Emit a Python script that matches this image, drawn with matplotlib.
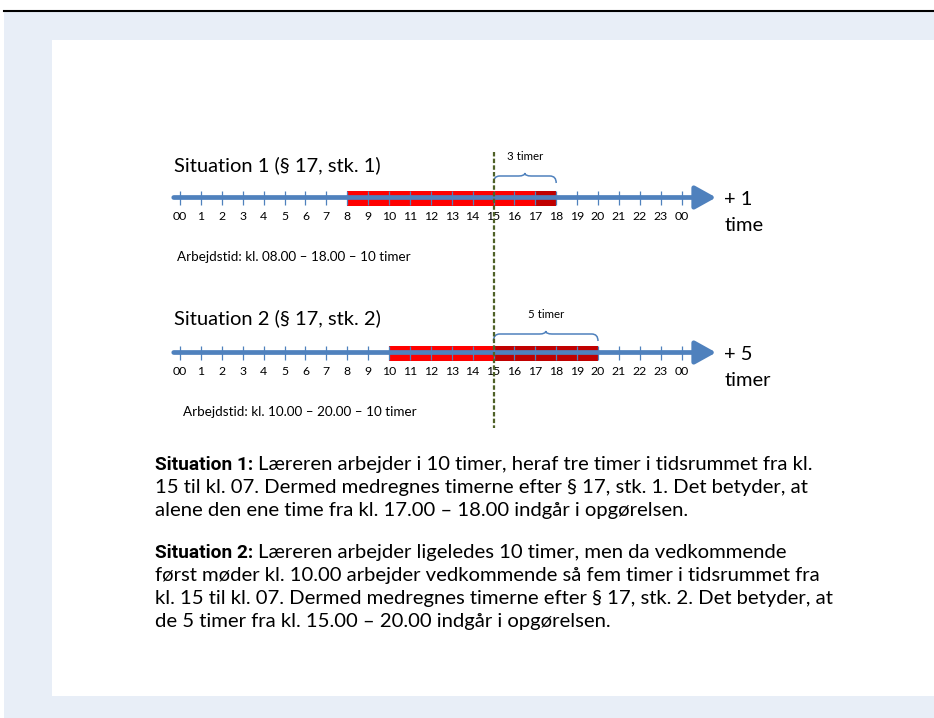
import matplotlib.pyplot as plt
from matplotlib.patches import Rectangle
from matplotlib.path import Path
from matplotlib.patches import PathPatch

plt.rcParams['font.family'] = ['Lato', 'DejaVu Sans']

# data
hours = list(range(25))
hour_labels = ['00'] + [str(h) for h in range(1, 24)] + ['00']
threshold = 15
sit1_work = (8, 18)
sit1_counted = (17, 18)
sit1_brace = (15, 18, '3 timer')
sit2_work = (10, 20)
sit2_counted = (15, 20)
sit2_brace = (15, 20, '5 timer')

titles = ['Situation 1 (§ 17, stk. 1)', 'Situation 2 (§ 17, stk. 2)']
extra = [('+ 1', 'time'), ('+ 5', 'timer')]
worktimes = ['Arbejdstid: kl. 08.00 – 18.00 – 10 timer',
             'Arbejdstid: kl. 10.00 – 20.00 – 10 timer']

para1_bold = 'Situation 1:'
para1 = ['Læreren arbejder i 10 timer, heraf tre timer i tidsrummet fra kl.',
         '15 til kl. 07. Dermed medregnes timerne efter § 17, stk. 1. Det betyder, at',
         'alene den ene time fra kl. 17.00 – 18.00 indgår i opgørelsen.']
para2_bold = 'Situation 2:'
para2 = ['Læreren arbejder ligeledes 10 timer, men da vedkommende',
         'først møder kl. 10.00 arbejder vedkommende så fem timer i tidsrummet fra',
         'kl. 15 til kl. 07. Dermed medregnes timerne efter § 17, stk. 2. Det betyder, at',
         'de 5 timer fra kl. 15.00 – 20.00 indgår i opgørelsen.']

BLUE = '#4F81BD'
RED = '#FF0000'
DRED = '#C00000'

W, H = 934, 718
fig = plt.figure(figsize=(W / 100, H / 100), dpi=100)
fig.patch.set_facecolor('white')

# page background
fig.patches.append(Rectangle((4 / W, 0), 1, (H - 12) / H, transform=fig.transFigure,
                             facecolor='#E8EEF7', edgecolor='none', zorder=-3))
fig.patches.append(Rectangle((52 / W, (H - 696) / H), 1, (696 - 40) / H, transform=fig.transFigure,
                             facecolor='white', edgecolor='none', zorder=-2))
fig.lines.append(plt.Line2D([4 / W, 1], [(H - 11) / H] * 2, transform=fig.transFigure,
                            color='black', lw=1.5, zorder=-1))

ax = fig.add_axes([0, 0, 1, 1])
ax.patch.set_alpha(0)
x0, px_per_h = 180, 20.9
ax.set_xlim(-x0 / px_per_h, (W - x0) / px_per_h)
ax.set_ylim(H, 0)
ax.axis('off')


def brace(x1, x2, ybot, label, ly):
    d = 0.3
    xm = (x1 + x2) / 2
    ytop = ybot - 7
    verts = [(x1, ybot), (x1, ytop), (x1 + d, ytop),
             (xm - d, ytop), (xm, ytop), (xm, ytop - 3),
             (xm, ytop), (xm + d, ytop),
             (x2 - d, ytop), (x2, ytop), (x2, ybot)]
    codes = [Path.MOVETO, Path.CURVE3, Path.CURVE3,
             Path.LINETO, Path.CURVE3, Path.CURVE3,
             Path.CURVE3, Path.CURVE3,
             Path.LINETO, Path.CURVE3, Path.CURVE3]
    ax.add_patch(PathPatch(Path(verts, codes), facecolor='none', edgecolor=BLUE, lw=1.1))
    ax.text(xm, ly, label, ha='center', va='center', fontsize=8.3)


def timeline(y, work, counted, br, title, ex, wt, ty, wy, wx, by, bly):
    ax.barh(y + 0.8, work[1] - work[0], left=work[0], height=15, color=RED, zorder=2)
    ax.barh(y + 0.8, counted[1] - counted[0], left=counted[0], height=15, color=DRED, zorder=2)
    ax.annotate('', xy=(25.65, y), xytext=(-0.3, y),
                arrowprops=dict(arrowstyle='-|>,head_length=0.9,head_width=0.5',
                                color=BLUE, lw=3.4, shrinkA=0, shrinkB=0,
                                mutation_scale=14), zorder=3)
    ax.vlines(hours, y - 7, y + 7, color=BLUE, lw=0.9, zorder=3)
    for h, lab in zip(hours, hour_labels):
        ax.text(h, y + 19, lab, ha='center', va='center', fontsize=8.8)
    ax.text(-0.3, ty, title, ha='left', va='center', fontsize=14.5)
    ax.text(26.05, y + 2, ex[0], ha='left', va='center', fontsize=14.5)
    ax.text(26.05, y + 28, ex[1], ha='left', va='center', fontsize=14.5)
    ax.text(wx, wy, wt, ha='left', va='center', fontsize=9.7)
    brace(br[0], br[1], by, br[2], bly)


timeline(197.5, sit1_work, sit1_counted, sit1_brace, titles[0], extra[0], worktimes[0],
         165, 257, -0.15, 183, 157)
timeline(352.5, sit2_work, sit2_counted, sit2_brace, titles[1], extra[1], worktimes[1],
         318, 412, 0.15, 341, 315)

# threshold line kl. 15
ax.vlines(threshold, 152, 428, color='#4F6228', lw=1.6, linestyles=(0, (2, 1)), zorder=4)

# paragraphs
px_left = (155 - x0) / px_per_h
fs = 14.6
lh = 23
renderer = fig.canvas.get_renderer()


def paragraph(bold, lines, ybase):
    tb = ax.text(px_left, ybase, bold, ha='left', va='baseline', fontsize=fs - 0.8,
                 fontweight='bold', family=['Roboto', 'DejaVu Sans'])
    wb = tb.get_window_extent(renderer).width + 5
    ax.annotate(lines[0], xy=(px_left, ybase), xytext=(wb, 0), textcoords='offset pixels',
                ha='left', va='baseline', fontsize=fs)
    for i, ln in enumerate(lines[1:], start=1):
        ax.text(px_left, ybase + i * lh, ln, ha='left', va='baseline', fontsize=fs)


paragraph(para1_bold, para1, 470)
paragraph(para2_bold, para2, 558)

fig.savefig('out.png', dpi=100)
